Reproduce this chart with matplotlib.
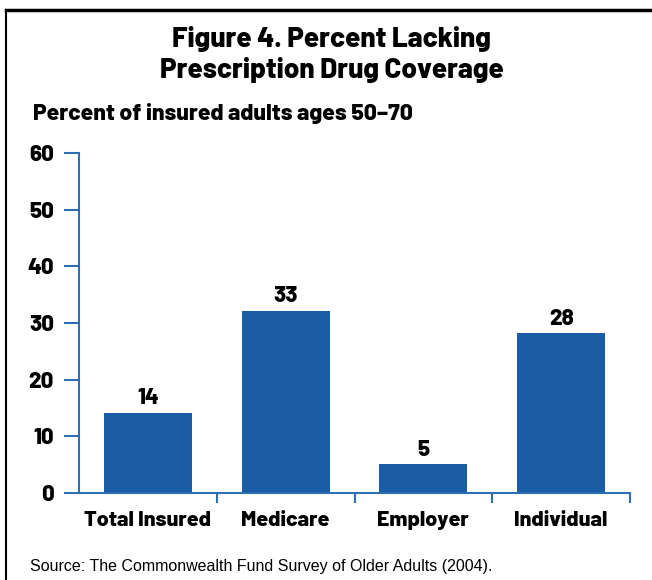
import numpy as np
import matplotlib.pyplot as plt
from matplotlib.lines import Line2D

categories = ['Total Insured', 'Medicare', 'Employer', 'Individual']
heights = [14.2, 32.2, 5.1, 28.2]   # bar heights as drawn
labels = ['14', '33', '5', '28']    # printed values
yticks = [0, 10, 20, 30, 40, 50, 60]

blue = '#1a5ca6'
axblue = '#2f6fb8'
head = ['Barlow', 'DejaVu Sans']
wt = 800

fig = plt.figure(figsize=(6.52, 5.80), dpi=100)
ax = fig.add_axes([79/652, 87/580, 551/652, 340/580])

x = np.arange(len(categories))
ax.bar(x, heights, width=0.64, color=blue, zorder=2)
for xi, h, lab in zip(x, heights, labels):
    ax.text(xi, h + 2.5, lab, ha='center', va='center', fontsize=16,
            fontweight=wt, family=head)

ax.set_xlim(-0.5, 3.5)
ax.set_ylim(0, 60)
ax.set_yticks(yticks)
ax.set_yticklabels([str(t) for t in yticks], fontsize=16, fontweight=wt,
                   family=head)
ax.set_xticks([0.5, 1.5, 2.5, 3.5])
ax.set_xticklabels([])
ax.tick_params(axis='y', length=11, width=1.5, color=axblue, pad=7)
ax.tick_params(axis='x', length=7, width=1.5, color=axblue)
for xi, c in zip(x, categories):
    ax.text(xi, -4.9, c, ha='center', va='center', fontsize=15.5,
            fontweight=wt, family=head)

for s in ['top', 'right']:
    ax.spines[s].set_visible(False)
for s in ['left', 'bottom']:
    ax.spines[s].set_color(axblue)
    ax.spines[s].set_linewidth(1.5)

fig.text(0.509, 1 - 54.5/580, 'Figure 4. Percent Lacking\nPrescription Drug Coverage',
         ha='center', va='center', fontsize=20, fontweight=wt,
         family=head, linespacing=1.2)
fig.text(33/652, 1 - 113/580, 'Percent of insured adults ages 50\u201370',
         ha='left', va='center', fontsize=16.5, fontweight=wt, family=head)
fig.text(30/652, 1 - 567/580,
         'Source: The Commonwealth Fund Survey of Older Adults (2004).',
         ha='left', va='center', fontsize=11.5, family='Liberation Sans')

# frame (top and left edges)
fig.add_artist(Line2D([6/652, 1], [1 - 10/580, 1 - 10/580],
                      transform=fig.transFigure, color='black', lw=2.5))
fig.add_artist(Line2D([6/652, 6/652], [0, 1 - 10/580],
                      transform=fig.transFigure, color='black', lw=1.5))

fig.savefig('out.png', dpi=100)
